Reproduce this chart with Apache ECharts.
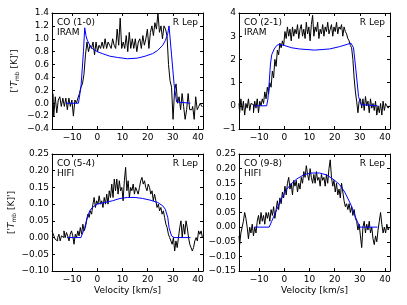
<!DOCTYPE html>
<html><head><meta charset="utf-8">
<script src="https://cdn.jsdelivr.net/npm/echarts@6/dist/echarts.min.js"></script>
<style>html,body{margin:0;padding:0;background:#fff}#c{width:407px;height:305px}</style>
</head><body><div id="c"></div>
<script>
// ---------- DATA ----------
const xTickValues = [-10, 0, 10, 20, 30, 40];

// CO (1-0) IRAM observed spectrum
const co10_v = [-17.6,-17,-16.4,-15.8,-15.2,-14.6,-14,-13.4,-12.8,-12.2,-11.6,-11,-10.4,-9.8,-9.2,-8.6,-8,-7.4,-6.8,-6.2,-5.6,-5,-4.4,-3.8,-3.2,-2.6,-2,-1.4,-0.8,-0.2,0.4,1,1.6,2.2,2.8,3.4,4,4.6,5.2,5.8,6.4,7,7.6,8.2,8.8,9.4,10,10.6,11.2,11.8,12.4,13,13.6,14.2,14.8,15.4,16,16.6,17.2,17.8,18.4,19,19.6,20.2,20.8,21.4,22,22.6,23.2,23.8,24.4,25,25.6,26.2,26.8,27.4,28,28.6,29.2,29.8,30.4,31,31.6,32.2,32.8,33.4,34,34.6,35.2,35.8,36.4,37,37.6,38.2,38.8,39.4,40,40.6,41.2,41.8];
const co10_t = [0.15,-0.2,0.1,-0.15,0.05,0.1,-0.05,0.08,-0.05,0.08,
  -0.1,0.08,-0.05,0.05,-0.2,0.05,0.0,0.08,0.15,0.25,
  0.3,0.45,0.75,0.95,0.8,0.9,0.85,0.95,0.75,0.95,
  0.8,0.9,0.85,0.95,0.85,1.0,0.85,0.95,0.9,0.85,
  1.0,0.9,0.85,1.15,0.9,1.32,0.85,0.95,0.85,1.05,
  0.8,1.1,0.85,1.0,0.85,1.0,0.8,0.95,1.0,0.85,
  1.05,0.9,1.0,1.15,0.85,1.1,1.2,1.05,1.25,1.15,
  1.4,1.1,1.2,1.0,1.2,1.15,1.05,0.6,0.35,0.25,
  -0.25,0.2,0.3,0.0,0.1,-0.1,0.15,-0.05,-0.25,-0.1,
  0.15,-0.1,-0.1,-0.05,-0.25,0.1,-0.1,-0.05,0.0,-0.05];
// CO (1-0) model
const co10m_v = [-12.5,-7.5,-6.5,-5.5,-5,-4.5,-4,-3,-2,0,2,5,8,12,16,19,22,24,26,27,28,28.5,29.5,30.5,31.5,32,37];
const co10m_t = [0,0,0.25,0.8,1.17,1.05,0.98,0.9,0.85,0.8,0.77,0.73,0.71,0.69,0.7,0.73,0.77,0.82,0.9,0.97,1.08,1.2,0.75,0.3,0.02,0,0];

// shared 0.5 km/s channel grid for the other spectra
const grid05_v = [-18,-17.5,-17,-16.5,-16,-15.5,-15,-14.5,-14,-13.5,-13,-12.5,-12,-11.5,-11,-10.5,-10,-9.5,-9,-8.5,-8,-7.5,-7,-6.5,-6,-5.5,-5,-4.5,-4,-3.5,-3,-2.5,-2,-1.5,-1,-0.5,0,0.5,1,1.5,2,2.5,3,3.5,4,4.5,5,5.5,6,6.5,7,7.5,8,8.5,9,9.5,10,10.5,11,11.5,12,12.5,13,13.5,14,14.5,15,15.5,16,16.5,17,17.5,18,18.5,19,19.5,20,20.5,21,21.5,22,22.5,23,23.5,24,24.5,25,25.5,26,26.5,27,27.5,28,28.5,29,29.5,30,30.5,31,31.5,32,32.5,33,33.5,34,34.5,35,35.5,36,36.5,37,37.5,38,38.5,39,39.5,40,40.5,41,41.5,42];

// CO (2-1) IRAM observed
const co21_t = [0.1,-0.3,0.3,-0.2,0.2,-0.4,0.1,-0.1,0.3,-0.2,
  0.1,0.05,-0.3,0.2,-0.1,0.3,-0.3,0.2,0.0,0.3,
  0.1,0.6,0.3,0.8,0.5,1.0,0.8,1.5,1.2,2.0,
  1.7,2.4,2.2,2.7,2.5,2.8,2.6,3.2,2.9,3.4,
  3.0,3.3,2.8,3.4,3.0,3.3,3.1,3.5,2.9,3.3,
  3.5,3.0,3.3,2.9,3.6,3.1,3.4,2.8,3.5,3.9,
  3.0,3.4,3.2,3.6,2.9,3.3,3.1,3.5,3.0,3.4,
  3.2,3.6,3.1,3.3,3.5,3.0,3.4,3.2,3.6,3.1,
  3.4,3.3,3.5,3.0,3.4,3.2,3.1,2.9,2.8,2.6,
  2.5,2.0,1.2,0.6,0.2,-0.3,0.2,0.3,-0.1,0.3,
  -0.2,0.4,0.0,0.2,-0.3,0.3,-0.1,0.1,-0.2,0.2,
  -0.4,0.0,-0.3,0.1,-0.4,0.2,-0.2,0.1,0.0,-0.1,
  0.0];
const co21m_v = [-12,-7,-6.5,-6,-5.5,-5,-4,-3,-2,0,3,6,12,18,22,25,26.5,27.5,28.5,29.5,30.5,31,37];
const co21m_t = [0,0,0.3,1.0,1.8,2.2,2.45,2.6,2.65,2.6,2.5,2.45,2.4,2.45,2.55,2.65,2.7,2.5,1.5,0.4,0.05,0,0];

// CO (5-4) HIFI observed
const co54_t = [0.02,0.015,0.005,-0.005,-0.01,0.0,0.01,-0.01,0.005,0.0,
  0.02,0.0,0.015,0.005,-0.01,0.01,0.02,0.005,-0.02,0.01,
  0.0,0.02,0.005,0.03,0.01,0.04,0.02,0.03,0.05,0.07,
  0.06,0.08,0.07,0.1,0.12,0.09,0.11,0.1,0.125,0.1,
  0.11,0.09,0.12,0.1,0.13,0.1,0.14,0.12,0.16,0.12,
  0.175,0.14,0.175,0.13,0.17,0.14,0.15,0.11,0.17,0.21,
  0.14,0.17,0.12,0.15,0.14,0.16,0.13,0.15,0.14,0.13,
  0.15,0.17,0.18,0.16,0.17,0.15,0.14,0.16,0.15,0.13,
  0.14,0.11,0.13,0.11,0.09,0.1,0.08,0.09,0.07,0.08,
  0.06,0.04,0.03,0.01,0.0,-0.01,-0.02,0.0,-0.04,-0.01,
  -0.03,0.0,0.03,0.05,0.0,0.04,0.01,0.05,0.03,0.0,
  -0.02,-0.03,-0.04,-0.03,-0.01,0.0,-0.01,0.02,0.01,0.02,
  0.0];
const co54m_v = [-12,-6.5,-5,-4,-3,-2,0,3,6,9,12,15,18,21,24,26,27,28,28.5,29.5,30.5,37];
const co54m_t = [0,0,0.03,0.06,0.08,0.09,0.1,0.105,0.11,0.117,0.12,0.12,0.117,0.112,0.105,0.095,0.085,0.06,0.03,0.005,0,0];

// CO (9-8) HIFI observed
const co98_t = [-0.03,-0.06,-0.02,0.0,0.02,0.05,0.03,0.0,-0.04,0.0,
  -0.02,0.01,-0.03,0.0,-0.02,0.02,0.04,0.01,0.05,0.02,
  0.04,0.01,0.05,0.03,0.05,0.02,0.06,0.04,0.07,0.03,
  0.06,0.09,0.06,0.1,0.08,0.12,0.1,0.14,0.11,0.15,
  0.17,0.13,0.15,0.11,0.16,0.14,0.16,0.12,0.15,0.13,
  0.17,0.15,0.19,0.17,0.21,0.18,0.16,0.2,0.17,0.15,
  0.18,0.15,0.19,0.16,0.17,0.14,0.18,0.16,0.17,0.14,
  0.18,0.15,0.2,0.23,0.17,0.14,0.16,0.12,0.15,0.11,
  0.13,0.1,0.15,0.12,0.09,0.07,0.08,0.06,0.08,0.05,
  0.07,0.04,0.06,0.03,0.02,-0.01,0.01,-0.03,-0.07,0.0,
  0.02,-0.02,0.01,-0.01,0.02,-0.02,0.0,-0.04,-0.06,-0.03,
  -0.05,-0.01,0.02,0.05,0.01,-0.02,0.0,-0.02,0.01,-0.01,
  0.0];
const co98m_v = [-12,-6,-5,-3,-1,1,3,5,8,11,14,17,20,22,24,26,27,28,29,30,37];
const co98m_t = [0,0,0.02,0.06,0.1,0.13,0.15,0.165,0.18,0.185,0.185,0.178,0.16,0.145,0.12,0.085,0.065,0.04,0.02,0,0];

// y-axis ticks per panel
const yMin = [-0.4, -1, -0.10, -0.15];
const yMax = [1.4, 4, 0.25, 0.25];
const yStep = [0.2, 1, 0.05, 0.05];
const yDec = [1, 0, 2, 2];

const lineNames = ['CO (1-0)', 'CO (2-1)', 'CO (5-4)', 'CO (9-8)'];
const telescopes = ['IRAM', 'IRAM', 'HIFI', 'HIFI'];
const starName = 'R Lep';
const xLabel = 'Velocity [km/s]';

// ---------- BUILD ----------
const zip = (a, b) => a.map((v, i) => [v, b[i]]);
const obs = [zip(co10_v, co10_t), zip(grid05_v, co21_t), zip(grid05_v, co54_t), zip(grid05_v, co98_t)];
const mod = [zip(co10m_v, co10m_t), zip(co21m_v, co21m_t), zip(co54m_v, co54m_t), zip(co98m_v, co98m_t)];

const FONT = 'DejaVu Sans';
const fmtNum = (v, d) => { if (Math.abs(v) < 1e-9) v = 0; return (v < 0 ? '\u2212' : '') + Math.abs(v).toFixed(d); };

const grids = [
  {left: 52, top: 13, width: 151, height: 116},
  {left: 239, top: 13, width: 151, height: 116},
  {left: 52, top: 154, width: 151, height: 117},
  {left: 239, top: 154, width: 151, height: 117}
];

const axLine = {show: true, onZero: false, lineStyle: {color: '#000', width: 1}};
const xAxes = [], yAxes = [], series = [], graphics = [];
grids.forEach((g, i) => {
  const baseX = {
    type: 'value', gridIndex: i, min: -18, max: 42,
    axisLine: axLine, splitLine: {show: false},
    axisTick: {show: true, inside: true, length: 3, lineStyle: {color: '#000'}, customValues: xTickValues},
  };
  xAxes.push(Object.assign({}, baseX, {
    position: 'bottom',
    axisLabel: {show: true, customValues: xTickValues, formatter: v => fmtNum(v, 0), color: '#000', fontSize: 9, fontFamily: FONT, margin: 4},
    name: i >= 2 ? xLabel : '', nameLocation: 'middle', nameGap: 15,
    nameTextStyle: {color: '#000', fontSize: 9, fontFamily: FONT}
  }));
  xAxes.push(Object.assign({}, baseX, {position: 'top', axisLabel: {show: false}}));
  const baseY = {
    type: 'value', gridIndex: i, min: yMin[i], max: yMax[i], interval: yStep[i],
    axisLine: axLine, splitLine: {show: false},
    axisTick: {show: true, inside: true, length: 3, lineStyle: {color: '#000'}}
  };
  yAxes.push(Object.assign({}, baseY, {
    position: 'left',
    axisLabel: {show: true, formatter: v => fmtNum(v, yDec[i]), color: '#000', fontSize: 9, fontFamily: FONT, margin: 3},
    name: (i % 2 === 0) ? "['{it|T}{sub|mb} [K]']" : '', nameLocation: 'middle', nameRotate: 90, nameGap: 32,
    nameTextStyle: {color: '#000', fontSize: 9, fontFamily: FONT,
      rich: {it: {fontStyle: 'italic', fontSize: 9, fontFamily: FONT}, sub: {fontSize: 6, fontFamily: FONT, verticalAlign: 'bottom', padding: [5, 0, 0, 0]}}}
  }));
  yAxes.push(Object.assign({}, baseY, {position: 'right', axisLabel: {show: false}}));

  series.push({type: 'line', xAxisIndex: 2 * i, yAxisIndex: 2 * i, data: obs[i], step: 'middle', symbol: 'none',
    lineStyle: {color: '#000', width: 1}, clip: true, silent: true, animation: false, z: 2});
  series.push({type: 'line', xAxisIndex: 2 * i, yAxisIndex: 2 * i, data: mod[i], symbol: 'none',
    lineStyle: {color: '#0000ff', width: 1}, clip: true, silent: true, animation: false, z: 3});

  graphics.push({type: 'text', left: g.left + 5, top: g.top + 5,
    style: {text: lineNames[i] + '\n' + telescopes[i], fill: '#000', font: '9px "DejaVu Sans"', lineHeight: 10}});
  graphics.push({type: 'text', right: 407 - (g.left + g.width) + 5, top: g.top + 5,
    style: {text: starName, fill: '#000', font: '9px "DejaVu Sans"', align: 'right'}});
});

const chart = echarts.init(document.getElementById('c'), null, {renderer: 'canvas'});
chart.setOption({
  animation: false,
  backgroundColor: '#fff',
  grid: grids,
  xAxis: xAxes,
  yAxis: yAxes,
  series: series,
  graphic: graphics
});
</script></body></html>
